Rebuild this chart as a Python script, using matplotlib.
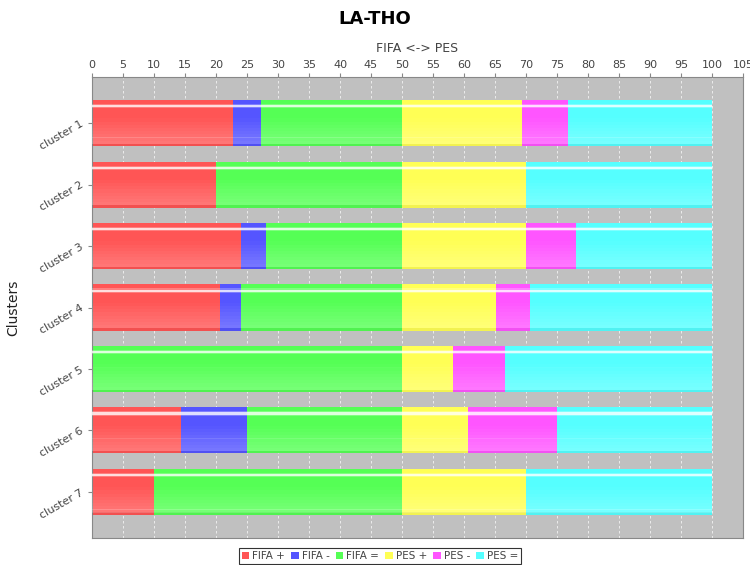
import numpy as np
import matplotlib.pyplot as plt

clusters = ['cluster 1', 'cluster 2', 'cluster 3', 'cluster 4', 'cluster 5', 'cluster 6', 'cluster 7']
series = ['FIFA +', 'FIFA -', 'FIFA =', 'PES +', 'PES -', 'PES =']
fifa_plus = [22.7, 20.0, 24.0, 20.7, 0.0, 14.3, 10.0]
fifa_minus = [4.6, 0.0, 4.0, 3.3, 0.0, 10.7, 0.0]
fifa_eq = [22.7, 30.0, 22.0, 26.0, 50.0, 25.0, 40.0]
pes_plus = [19.3, 20.0, 20.0, 15.2, 8.3, 10.7, 20.0]
pes_minus = [7.4, 0.0, 8.0, 5.4, 8.3, 14.3, 0.0]
pes_eq = [23.3, 30.0, 22.0, 29.4, 33.4, 25.0, 30.0]
colors = ['#ff5555', '#5555ff', '#55ff55', '#ffff55', '#ff55ff', '#55ffff']

values = [fifa_plus, fifa_minus, fifa_eq, pes_plus, pes_minus, pes_eq]

fig = plt.figure(figsize=(7.5, 5.65), dpi=100)
ax = fig.add_axes([92 / 750, 1 - 538 / 565, (743 - 92) / 750, (538 - 77) / 565])
ax.set_facecolor('#c0c0c0')

y = np.arange(len(clusters))
h = 0.75
left = np.zeros(len(clusters))
steps = 8
for vals, col, name in zip(values, colors, series):
    vals = np.array(vals)
    ax.barh(y, vals, height=h, left=left, color=col, label=name, zorder=2)
    # gradient: gets lighter toward the bottom
    for k in range(steps):
        sh = h * 0.55 / steps
        yc = y - h / 2 + h * 0.4 + sh * (k + 0.5)
        ax.barh(yc, vals, height=sh * 1.02, left=left, color='white',
                alpha=0.2 * (k + 1) / steps, zorder=3, linewidth=0)
    # highlight stripe near top
    ax.barh(y - h / 2 + 0.1, vals, height=0.035, left=left, color='white', alpha=0.75, zorder=3)
    ax.barh(y - h / 2 + 0.1, vals, height=0.07, left=left, color='white', alpha=0.25, zorder=3)
    ax.barh(y + h / 2 - 0.02, vals, height=0.04, left=left, color='black', alpha=0.05, zorder=3)
    left += vals

ax.set_xlim(0, 105)
ax.set_ylim(len(clusters) - 0.25, -0.75)
ax.set_xticks(np.arange(0, 106, 5))
ax.xaxis.tick_top()
ax.xaxis.set_label_position('top')
ax.tick_params(axis='x', colors='#888888', labelcolor='#444444', labelsize=8, length=3, pad=2)
ax.set_yticks(y)
ax.set_yticklabels(clusters, rotation=30, ha='right', va='center', rotation_mode='anchor')
ax.tick_params(axis='y', colors='#888888', labelcolor='#444444', labelsize=8, length=3, pad=4)
ax.grid(axis='x', color='white', linestyle=(0, (3, 3)), linewidth=0.6, alpha=0.8, zorder=1)
ax.set_axisbelow(True)
for s in ax.spines.values():
    s.set_color('#888888')
ax.set_xlabel('FIFA <-> PES', fontsize=9, color='#444444', labelpad=6)
ax.set_ylabel('Clusters', fontsize=10, color='#222222')
ax.yaxis.set_label_coords((20 - 92) / 651, 0.5)

fig.text(0.5, 1 - 19 / 565, 'LA-THO', ha='center', va='center', fontsize=13, fontweight='bold')

leg = fig.legend(loc='lower center', bbox_to_anchor=(380 / 750, 0.0), ncol=6, fontsize=7.5,
                 frameon=True, fancybox=False, handlelength=0.7, handleheight=0.7,
                 handletextpad=0.3, columnspacing=0.6, borderpad=0.3, borderaxespad=0.1)
leg.get_frame().set_edgecolor('black')
leg.get_frame().set_linewidth(0.8)
for t in leg.get_texts():
    t.set_color('#444444')

fig.savefig('out.png', dpi=100)
